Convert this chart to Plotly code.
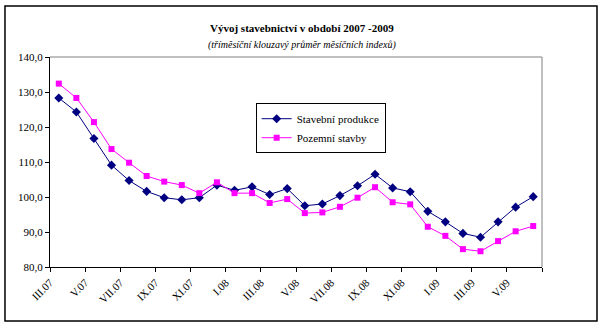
import plotly.graph_objects as go

months = ["III.07","IV.07","V.07","VI.07","VII.07","VIII.07","IX.07","X.07","XI.07","XII.07",
          "I.08","II.08","III.08","IV.08","V.08","VI.08","VII.08","VIII.08","IX.08","X.08","XI.08","XII.08",
          "I.09","II.09","III.09","IV.09","V.09","VI.09"]
tick_labels = ["III.07","V.07","VII.07","IX.07","XI.07","I.08","III.08","V.08","VII.08","IX.08","XI.08","I.09","III.09","V.09"]
stavebni_produkce = [128.3,124.3,116.7,109.1,104.7,101.6,99.8,99.2,99.8,103.4,101.9,102.9,100.7,102.4,
                     97.5,98.0,100.4,103.2,106.5,102.6,101.5,95.9,92.9,89.6,88.5,92.9,97.1,100.1]
pozemni_stavby = [132.4,128.3,121.4,113.7,109.8,106.0,104.4,103.4,101.1,104.2,101.1,101.1,98.3,99.4,
                  95.4,95.6,97.2,99.8,102.8,98.5,97.9,91.5,88.9,85.1,84.5,87.4,90.2,91.7]
y_ticks = [80,90,100,110,120,130,140]

xs = list(range(len(months)))
font = "Liberation Serif, Times New Roman, serif"

fig = go.Figure()
fig.add_trace(go.Scatter(x=xs, y=stavebni_produkce, name="Stavební produkce", mode="lines+markers",
                         line=dict(color="#000080", width=1),
                         marker=dict(symbol="diamond", size=7, color="#000080")))
fig.add_trace(go.Scatter(x=xs, y=pozemni_stavby, name="Pozemní stavby", mode="lines+markers",
                         line=dict(color="#FF00FF", width=1),
                         marker=dict(symbol="square", size=6, color="#FF00FF")))

tickvals = [i - 0.5 for i in range(0, len(months), 2)]
fig.update_layout(
    width=605, height=327,
    margin=dict(l=50, r=63, t=57, b=60),
    paper_bgcolor="white", plot_bgcolor="white",
    separators=", ",
    showlegend=True,
    legend=dict(x=0.418, y=0.78, xanchor="left", yanchor="top",
                bordercolor="black", borderwidth=1, bgcolor="white",
                font=dict(family=font, size=11, color="black"),
                tracegroupgap=0, itemwidth=30),
    xaxis=dict(range=[-0.5, len(months) - 0.5], tickmode="array", tickvals=tickvals + [len(months) - 0.5],
               ticktext=tick_labels + [""], tickangle=-45, ticks="outside", ticklen=4, tickcolor="black",
               showline=True, linecolor="black", linewidth=1, showgrid=False, zeroline=False,
               tickfont=dict(family=font, size=11, color="black"), mirror=False),
    yaxis=dict(range=[80, 140], tickvals=y_ticks, tickformat=".1f", ticks="outside", ticklen=4,
               tickcolor="black", showline=True, linecolor="black", linewidth=1, showgrid=False,
               zeroline=False, tickfont=dict(family=font, size=11, color="black")),
    shapes=[
        dict(type="line", xref="paper", yref="paper", x0=0, x1=1, y0=1, y1=1, line=dict(color="gray", width=1)),
        dict(type="line", xref="paper", yref="paper", x0=1, x1=1, y0=0, y1=1, line=dict(color="gray", width=1)),
        dict(type="rect", xref="paper", yref="paper", x0=-0.0915, x1=1.1118, y0=-0.257, y1=1.243,
             line=dict(color="black", width=1.5)),
    ],
    annotations=[
        dict(text="<b>Vývoj stavebnictví v období 2007 -2009</b>", xref="paper", yref="paper",
             x=0.512, y=1.175, showarrow=False, font=dict(family=font, size=11, color="black")),
        dict(text="<i>(třímĕsíční klouzavý průmĕr mĕsíčních indexů)</i>", xref="paper", yref="paper",
             x=0.512, y=1.095, showarrow=False, font=dict(family=font, size=10, color="black")),
    ],
)
fig.write_html("out.html")
